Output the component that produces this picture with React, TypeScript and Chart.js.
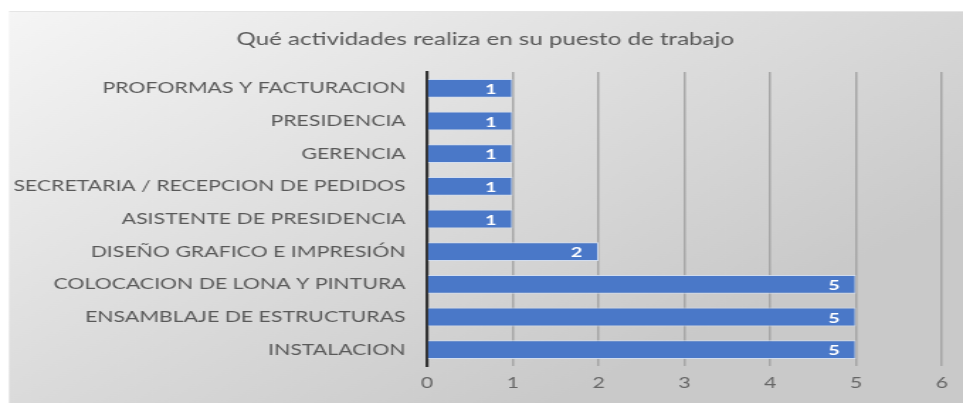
import React, { useEffect, useRef } from "react";
import { Chart, registerables } from "chart.js";

Chart.register(...registerables);

const titleText = "Qué actividades realiza en su puesto de trabajo";
const categories = [
  "PROFORMAS Y FACTURACION",
  "PRESIDENCIA",
  "GERENCIA",
  "SECRETARIA / RECEPCION DE PEDIDOS",
  "ASISTENTE DE PRESIDENCIA",
  "DISEÑO GRAFICO E IMPRESIÓN",
  "COLOCACION DE LONA Y PINTURA",
  "ENSAMBLAJE DE ESTRUCTURAS",
  "INSTALACION",
];
const values = [1, 1, 1, 1, 1, 2, 5, 5, 5];
const xMin = 0;
const xMax = 6;

// The reference image is horizontally stretched; draw on a narrower canvas and stretch it.
const CANVAS_W = 679;
const CANVAS_H = 403;
const STRETCH = 963 / CANVAS_W;

const bgPlugin = {
  id: "bgPlugin",
  beforeDraw(chart: any) {
    const { ctx, width, height } = chart;
    const left = 9 / STRETCH;
    ctx.save();
    ctx.fillStyle = "#ffffff";
    ctx.fillRect(0, 0, width, height);
    const g = ctx.createLinearGradient(left, 12, width * 0.45, height + 60);
    g.addColorStop(0, "#f5f5f5");
    g.addColorStop(1, "#c9c9c9");
    ctx.fillStyle = g;
    ctx.fillRect(left, 12, width - left, height - 12);
    ctx.fillStyle = "rgba(0,0,0,0.10)";
    ctx.fillRect(left, 11, width - left, 1);
    ctx.restore();
  },
};

const titlePlugin = {
  id: "titlePlugin",
  afterDraw(chart: any) {
    const { ctx, width } = chart;
    const left = 9 / STRETCH;
    ctx.save();
    ctx.fillStyle = "#595959";
    ctx.font = "17px Lato";
    ctx.textAlign = "center";
    ctx.textBaseline = "middle";
    ctx.fillText(titleText, (left + width) / 2 - 0.5, 40);
    ctx.restore();
  },
};

const labelPlugin = {
  id: "labelPlugin",
  afterDatasetsDraw(chart: any) {
    const { ctx } = chart;
    const meta = chart.getDatasetMeta(0);
    ctx.save();
    ctx.fillStyle = "#ffffff";
    ctx.font = "bold 14px Lato";
    ctx.textAlign = "center";
    ctx.textBaseline = "middle";
    meta.data.forEach((bar: any, i: number) => {
      ctx.fillText(String(values[i]), bar.x - 15.5, bar.y + 1);
    });
    ctx.restore();
  },
};

export default function App() {
  const ref = useRef<HTMLCanvasElement>(null);
  useEffect(() => {
    document.body.style.margin = "0";
    const chart = new Chart(ref.current!, {
      type: "bar",
      data: {
        labels: categories,
        datasets: [
          {
            data: values,
            backgroundColor: "#4a78c8",
            borderColor: "rgba(210,222,242,0.9)",
            borderWidth: 1,
            barPercentage: 0.85,
            categoryPercentage: 0.68,
          },
        ],
      },
      options: {
        indexAxis: "y",
        animation: false,
        responsive: false,
        devicePixelRatio: 1,
        layout: { padding: { top: 72, right: 15, bottom: 0, left: 0 } },
        plugins: {
          legend: { display: false },
          tooltip: { enabled: false },
          title: { display: false },
        },
        scales: {
          x: {
            min: xMin,
            max: xMax,
            ticks: {
              stepSize: 1,
              color: "#666666",
              font: { family: "Lato", size: 15 },
              padding: 8,
            },
            grid: { color: "#a6a6a6", lineWidth: 1.5, drawTicks: false },
            border: { display: false },
            afterFit(scale: any) {
              scale.height = 37;
            },
          },
          y: {
            ticks: {
              color: "#595959",
              font: { family: "Lato", size: 15 },
              padding: 15,
              autoSkip: false,
            },
            grid: { display: false, drawTicks: false },
            border: { display: true, color: "#333333", width: 2.2 },
            afterFit(scale: any) {
              scale.width = 301;
            },
          },
        },
      },
      plugins: [bgPlugin, titlePlugin, labelPlugin],
    });
    return () => chart.destroy();
  }, []);
  return (
    <div style={{ width: 963, height: 403, overflow: "hidden" }}>
      <div style={{ transform: `scaleX(${STRETCH})`, transformOrigin: "0 0", width: CANVAS_W }}>
        <canvas
          ref={ref}
          width={CANVAS_W}
          height={CANVAS_H}
          style={{ display: "block", width: CANVAS_W, height: CANVAS_H }}
        />
      </div>
    </div>
  );
}
